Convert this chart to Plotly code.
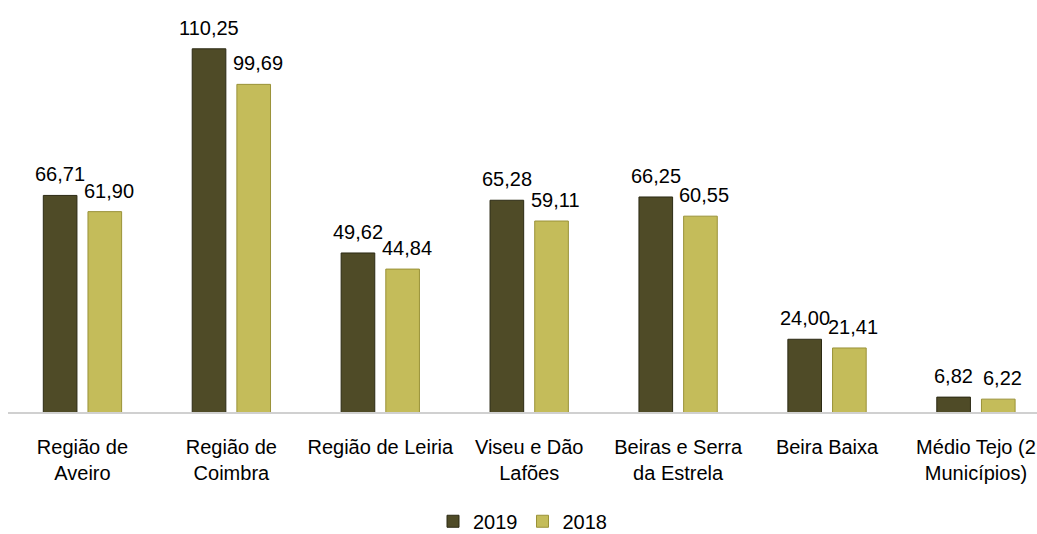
import plotly.graph_objects as go

categories = ["Região de<br>Aveiro", "Região de<br>Coimbra", "Região de Leiria",
              "Viseu e Dão<br>Lafões", "Beiras e Serra<br>da Estrela", "Beira Baixa",
              "Médio Tejo (2<br>Municípios)"]
values_2019 = [66.71, 110.25, 49.62, 65.28, 66.25, 24.00, 6.82]
values_2018 = [61.90, 99.69, 44.84, 59.11, 60.55, 21.41, 6.22]

FONT = "Liberation Sans Narrow, Arial Narrow, Liberation Sans, Arial, sans-serif"
FS = 20
BARGAP = 0.40

fig = go.Figure()
fig.add_trace(go.Bar(
    name="2019", x=categories, y=values_2019,
    marker=dict(color="#4f4b27", line=dict(color="#2c2a14", width=1)),
))
fig.add_trace(go.Bar(
    name="2018", x=categories, y=values_2018,
    marker=dict(color="#c4bc5a", line=dict(color="#9a9238", width=1)),
))

# data labels placed above each bar on the category axis
half = (1 - BARGAP) / 4
for i, (a, b) in enumerate(zip(values_2019, values_2018)):
    fig.add_annotation(x=i - half, y=a, xref="x", yref="y",
                       text=f"{a:.2f}".replace(".", ","), showarrow=False,
                       yanchor="bottom", yshift=8,
                       font=dict(family=FONT, size=FS, color="#000000"))
    fig.add_annotation(x=i + half, y=b, xref="x", yref="y",
                       text=f"{b:.2f}".replace(".", ","), showarrow=False,
                       yanchor="bottom", yshift=8, xshift=4,
                       font=dict(family=FONT, size=FS, color="#000000"))

fig.update_layout(
    width=1037, height=534,
    margin=dict(l=8, r=0, t=19, b=122, autoexpand=False),
    paper_bgcolor="white", plot_bgcolor="white",
    separators=",.",
    barmode="group", bargap=BARGAP, bargroupgap=0.247,
    font=dict(family=FONT, size=FS, color="#000000"),
    showlegend=True,
    legend=dict(orientation="h", x=0.5, xanchor="center", y=-0.278, yanchor="middle",
                font=dict(family=FONT, size=FS), itemwidth=30, traceorder="normal"),
    xaxis=dict(range=[-0.5, 6.41], showline=True, linecolor="#d0d0d0", linewidth=2,
               ticks="outside", ticklen=16, tickcolor="rgba(0,0,0,0)", tickangle=0,
               automargin=False,
               tickfont=dict(family=FONT, size=FS), showgrid=False),
    yaxis=dict(range=[2.4, 119.1], visible=False, showgrid=False, zeroline=False,
               automargin=False),
)

fig.write_html("out.html", config={"displayModeBar": False},
               post_script="document.body.style.margin='0';")
